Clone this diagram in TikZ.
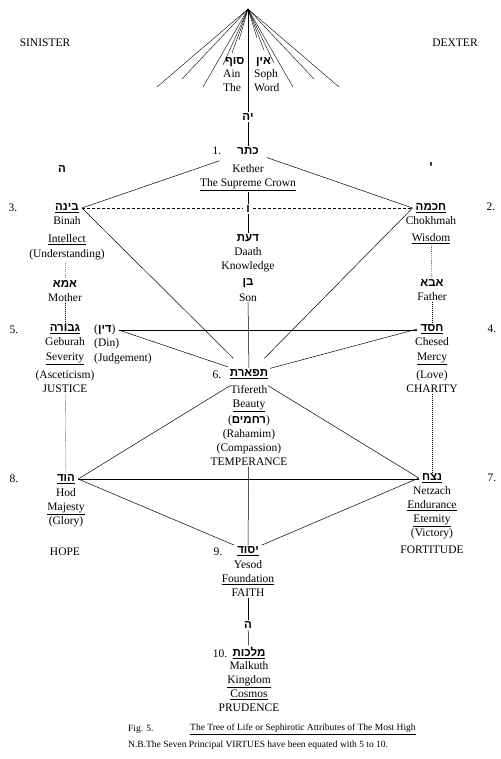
\documentclass[tikz,border=0pt]{standalone}
\usepackage{fontspec}
\setmainfont{Liberation Serif}
\newfontfamily\hebfont[Script=Hebrew]{Liberation Sans}
\TeXXeTstate=1
\usetikzlibrary{positioning}

\newcommand{\heb}[1]{{\hebfont\bfseries\beginR#1\endR}}
\newcommand{\uheb}[1]{\underline{\heb{#1}}}

\begin{document}
\begin{tikzpicture}[
  x=1pt, y=-1pt,
  font=\fontsize{11.5}{14}\selectfont,
  node distance=0pt,
  word/.style={inner sep=1pt, align=center},
  hebw/.style={inner xsep=3pt, inner ysep=1.5pt},
  num/.style={inner sep=1pt},
  capt/.style={font=\fontsize{9.5}{11}\selectfont, inner sep=0pt, anchor=west},
  ray/.style={line width=0.4pt},
  link/.style={line width=0.5pt},
  pillar/.style={dash pattern=on 1pt off 1pt, line width=0.35pt},
  veil/.style={densely dashed, line width=0.4pt},
  totif/.style={link, shorten >=22pt},
  toyesod/.style={link, shorten >=15pt}
]
\fill[white] (0,0) rectangle (500,759);
\useasboundingbox (0,0) rectangle (500,759);

% --- Rubriken ---
\node[word] (sinister) at (45,43) {SINISTER};
\node[word] (dexter) at (455,43) {DEXTER};

% --- Ain Soph ---
\coordinate (apex) at (248,9);
\foreach \ex/\ey in {157/87, 182/79, 203/87, 223/65, 232/53, 239/40,
                     339/87, 314/79, 293/87, 274/63, 264/50, 257/38}
  \draw[ray] (apex) -- (\ex,\ey);
\node[hebw, anchor=west] (soph) at (222,62) {\heb{סוף}};
\node[word, align=left, anchor=north west] (sophTxt) at (soph.south west) {Ain\\The};
\node[hebw, anchor=west] (ain) at (253,62) {\heb{אין}};
\node[word, align=left, anchor=north west] (ainTxt) at (ain.south west) {Soph\\Word};
\node[hebw] (yah) at (248,117) {\heb{יה}};

% --- Kether ---
\node[hebw] (kether) at (248,151) {\heb{כתר}};
\node[word, below=7pt of kether] (ketherTxt) {Kether\\\underline{The Supreme Crown}};
\node[num] (n1) at (217,151) {1.};
\node[hebw] (vav) at (248,209) {\heb{ו}};
\node[hebw] (daath) at (248,238) {\heb{דעת}};
\node[word, below=3pt of daath] (daathTxt) {Daath\\Knowledge};
\node[hebw] (ben) at (248,283) {\heb{בן}};
\node[word, below=3pt of ben] (benTxt) {Son};

% --- Sinister pillar ---
\node[hebw] (heLeft) at (62,169) {\heb{ה}};
\node[hebw] (binah) at (67,208) {\uheb{בינה}};
\node[word, below=1pt of binah] (binahTxt) {Binah\\[4pt]\underline{Intellect}\\[1pt](Understanding)};
\node[num] (n3) at (13,208) {3.};
\node[hebw] (ima) at (65,284) {\heb{אמא}};
\node[word, below=3pt of ima] (imaTxt) {Mother};
\node[hebw] (geburah) at (65,329) {\uheb{גבורה}};
\node[word, below=1pt of geburah] (geburahTxt) {Geburah\\[1pt]\underline{Severity}\\[4pt](Asceticism)\\JUSTICE};
\node[hebw, anchor=west] (din) at (91,330) {(\heb{דין})};
\node[word, align=left, anchor=north west] (dinTxt) at ([xshift=2pt]din.south west) {(Din)\\[1pt](Judgement)};
\node[num] (n5) at (14,330) {5.};
\node[hebw] (hod) at (66,479) {\uheb{הוד}};
\node[word, below=2pt of hod] (hodTxt) {Hod\\\underline{Majesty}\\(Glory)};
\node[word] (hope) at (65,552) {HOPE};
\node[num] (n8) at (14,479) {8.};

% --- Dexter pillar ---
\node[hebw] (yod) at (431,166) {\heb{י}};
\node[hebw] (chokhmah) at (431,208) {\uheb{חכמה}};
\node[word, below=1pt of chokhmah] (chokhmahTxt) {Chokhmah\\[3pt]\underline{Wisdom}};
\node[num] (n2) at (491,207) {2.};
\node[hebw] (abba) at (432,283) {\heb{אבא}};
\node[word, below=3pt of abba] (abbaTxt) {Father};
\node[hebw] (chesed) at (432,329) {\uheb{חסד}};
\node[word, below=1pt of chesed] (chesedTxt) {Chesed\\[1pt]\underline{Mercy}\\[4pt](Love)\\CHARITY};
\node[num] (n4) at (492,329) {4.};
\node[hebw] (netzach) at (432,478) {\uheb{נצח}};
\node[word, below=1pt of netzach] (netzachTxt) {Netzach\\\underline{Endurance}\\\underline{Eternity}\\(Victory)\\[3pt]FORTITUDE};
\node[num] (n7) at (492,478) {7.};

% --- Middle pillar ---
\node[hebw] (tifereth) at (249,374) {\uheb{תפארת}};
\node[word, below=4pt of tifereth] (tiferethTxt) {Tifereth\\\underline{Beauty}\\[2pt](\heb{רחמים})\\(Rahamim)\\(Compassion)\\TEMPERANCE};
\node[num] (n6) at (217,375) {6.};
\node[hebw] (yesod) at (248,551) {\uheb{יסוד}};
\node[word, below=2pt of yesod] (yesodTxt) {Yesod\\\underline{Foundation}\\FAITH};
\node[num] (n9) at (218,552) {9.};
\node[hebw] (heLow) at (248,625) {\heb{ה}};
\node[hebw] (malkuth) at (249,653) {\uheb{מלכות}};
\node[word, below=of malkuth] (malkuthTxt) {Malkuth\\\underline{Kingdom}\\\underline{Cosmos}\\PRUDENCE};
\node[num] (n10) at (220,654) {10.};

% --- Legende ---
\node[capt] (fig) at (128,729) {Fig. 5.};
\node[capt] (figTitle) at (190,729) {\underline{The Tree of Life or Sephirotic Attributes of The Most High}};
\node[capt] (nb) at (128,745) {N.B.The Seven Principal VIRTUES have been equated with 5 to 10.};

% --- Mittlere Saeule ---
\draw[link] (apex) -- (yah);
\draw[link] (yah) -- (kether);
\draw[link] (ketherTxt) -- (vav);
\draw[link] (vav) -- (daath);
\draw[link] (benTxt) -- (tifereth);
\draw[link] (tiferethTxt) -- (yesod);
\draw[link] (yesodTxt) -- (heLow);
\draw[link] (heLow) -- (malkuth);

% --- Seitensaeulen ---
\draw[pillar] (binahTxt) -- (ima);
\draw[pillar] (imaTxt) -- (geburah);
\draw[pillar] (geburahTxt) -- (hod);
\draw[pillar] (chokhmahTxt) -- (abba);
\draw[pillar] (abbaTxt) -- (chesed);
\draw[pillar] (chesedTxt) -- (netzach);

% --- Pfade ---
\draw[link, shorten >=30pt] (binah.east) -- (kether.center);
\draw[link, shorten >=20pt] (chokhmah.west) -- (kether.center);
\draw[veil] (binah.east) -- (binah.east -| vav.west);
\draw[veil] (vav.east |- chokhmah.west) -- (chokhmah.west);
\draw[totif] (binah.east) -- (tifereth.center);
\draw[totif] (chokhmah.west) -- (tifereth.center);
\draw[link] (din.east) -- (din.east -| chesed.west);
\draw[totif] (din.east) -- (tifereth.center);
\draw[totif] (chesed.west) -- (tifereth.center);
\draw[totif] (hod.east) -- (tifereth.center);
\draw[totif] (netzach.west) -- (tifereth.center);
\draw[link] (hod.east) -- (hod.east -| netzach.west);
\draw[toyesod] (hod.east) -- (yesod.center);
\draw[toyesod] (netzach.west) -- (yesod.center);

\end{tikzpicture}
\end{document}
